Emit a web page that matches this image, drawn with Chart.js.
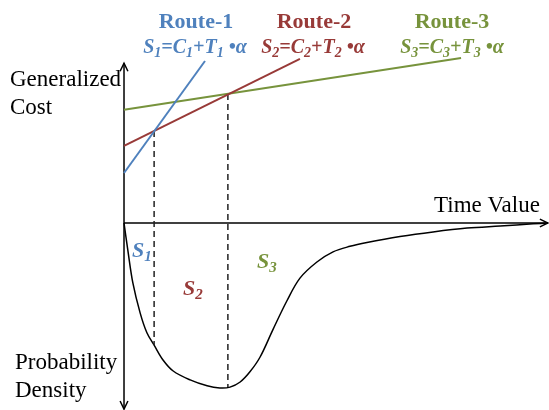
<!DOCTYPE html>
<html>
<head>
<meta charset="utf-8">
<script src="https://cdn.jsdelivr.net/npm/chart.js@4.4.1/dist/chart.umd.min.js"></script>
<style>
html,body{margin:0;padding:0;background:#fff;}
#c{display:block;}
</style>
</head>
<body>
<canvas id="c" width="549" height="410"></canvas>
<script>
// route cost lines (time value on x, generalized cost on y)
var route1X=[0,1.91], route1Y=[1.18,3.82];
var route2X=[0,4.15], route2Y=[1.82,3.87];
var route3X=[0,7.95], route3Y=[2.67,3.89];
// break points where routes swap
var cut1X=[0.71,0.71], cut1Y=[2.17,-2.88];
var cut2X=[2.45,2.45], cut2Y=[3.04,-3.87];
// probability density of time value (drawn downward)
var densX=[0,0.09,0.21,0.38,0.54,0.71,0.92,1.16,1.56,1.96,2.26,2.5,2.74,2.97,3.21,3.51,3.84,4.15,4.55,4.93,5.33,5.73,6.51,7.29,8.09,8.87,9.65,10];
var densY=[0,-0.64,-1.42,-2.12,-2.59,-2.88,-3.23,-3.49,-3.7,-3.84,-3.89,-3.87,-3.75,-3.51,-3.16,-2.52,-1.84,-1.3,-0.92,-0.68,-0.55,-0.46,-0.32,-0.21,-0.12,-0.07,-0.02,0];
// axes
var vAxisX=[0,0], vAxisY=[3.77,-4.39];
var hAxisX=[0,10], hAxisY=[0,0];

var BLUE='#4f81bd',RED='#983a38',GREEN='#77933c';

function pts(xs,ys){return xs.map(function(x,i){return {x:x,y:ys[i]};});}
function ds(xs,ys,color,w,extra){
  var d={data:pts(xs,ys),borderColor:color,borderWidth:w,pointRadius:0,fill:false,tension:0};
  for(var k in extra)d[k]=extra[k];
  return d;
}

function rich(ctx,parts,x,y,size,color,align){
  ctx.fillStyle=color;
  var w=0;
  parts.forEach(function(p){ctx.font='italic bold '+(p[1]?Math.round(size*0.68):size)+'px "Liberation Serif"';w+=ctx.measureText(p[0]).width;});
  var cx=align==='center'?x-w/2:x;
  parts.forEach(function(p){
    ctx.font='italic bold '+(p[1]?Math.round(size*0.68):size)+'px "Liberation Serif"';
    ctx.fillText(p[0],cx,p[1]?y+4:y);
    cx+=ctx.measureText(p[0]).width;
  });
}

var labels={
  id:'labels',
  afterDatasetsDraw:function(chart){
    var ctx=chart.ctx,sx=chart.scales.x,sy=chart.scales.y;
    ctx.save();
    // arrow heads
    ctx.strokeStyle='#000';ctx.lineWidth=1.5;
    function arrow(x0,y0,x1,y1){
      var px=sx.getPixelForValue(x1),py=sy.getPixelForValue(y1);
      var a=Math.atan2(py-sy.getPixelForValue(y0),px-sx.getPixelForValue(x0));
      ctx.beginPath();
      ctx.moveTo(px-9*Math.cos(a-0.45),py-9*Math.sin(a-0.45));
      ctx.lineTo(px,py);
      ctx.lineTo(px-9*Math.cos(a+0.45),py-9*Math.sin(a+0.45));
      ctx.stroke();
    }
    arrow(vAxisX[1],vAxisY[1],vAxisX[0],vAxisY[0]);
    arrow(vAxisX[0],vAxisY[0],vAxisX[1],vAxisY[1]);
    arrow(hAxisX[0],hAxisY[0],hAxisX[1],hAxisY[1]);

    ctx.textBaseline='alphabetic';
    ctx.textAlign='left';
    ctx.fillStyle='#000';
    ctx.font='23px "Liberation Serif"';
    ctx.fillText('Generalized',10,86);
    ctx.fillText('Cost',10,114);
    ctx.fillText('Time Value',434,212);
    ctx.fillText('Probability',15,369);
    ctx.fillText('Density',15,397);

    ctx.textAlign='center';
    ctx.font='bold 22px "Liberation Serif"';
    ctx.fillStyle=BLUE;ctx.fillText('Route-1',196,28);
    ctx.fillStyle=RED;ctx.fillText('Route-2',314,28);
    ctx.fillStyle=GREEN;ctx.fillText('Route-3',452,28);
    ctx.textAlign='left';
    rich(ctx,[['S',0],['1',1],['=C',0],['1',1],['+T',0],['1',1],[' \u2022\u03b1',0]],195,53,20,BLUE,'center');
    rich(ctx,[['S',0],['2',1],['=C',0],['2',1],['+T',0],['2',1],[' \u2022\u03b1',0]],313,53,20,RED,'center');
    rich(ctx,[['S',0],['3',1],['=C',0],['3',1],['+T',0],['3',1],[' \u2022\u03b1',0]],452,53,20,GREEN,'center');
    rich(ctx,[['S',0],['1',1]],132,257,22,BLUE,'left');
    rich(ctx,[['S',0],['2',1]],183,295,22,RED,'left');
    rich(ctx,[['S',0],['3',1]],257,268,22,GREEN,'left');
    ctx.restore();
  }
};

new Chart(document.getElementById('c'),{
  type:'line',
  data:{datasets:[
    ds(route1X,route1Y,BLUE,2,{order:1}),
    ds(route2X,route2Y,RED,2,{order:2}),
    ds(route3X,route3Y,GREEN,2,{order:3}),
    ds(cut1X,cut1Y,'#222',1.5,{borderDash:[6,4],order:4}),
    ds(cut2X,cut2Y,'#222',1.5,{borderDash:[6,4],order:4}),
    ds(densX,densY,'#000',1.5,{tension:0.35,order:5}),
    ds(vAxisX,vAxisY,'#000',1.5,{order:6}),
    ds(hAxisX,hAxisY,'#000',1.5,{order:6})
  ]},
  options:{
    responsive:false,animation:false,
    layout:{padding:0},
    plugins:{legend:{display:false},tooltip:{enabled:false}},
    scales:{
      x:{type:'linear',display:false,min:-2.925,max:10.024},
      y:{type:'linear',display:false,min:-4.41,max:5.259}
    }
  },
  plugins:[labels]
});
</script>
</body>
</html>
